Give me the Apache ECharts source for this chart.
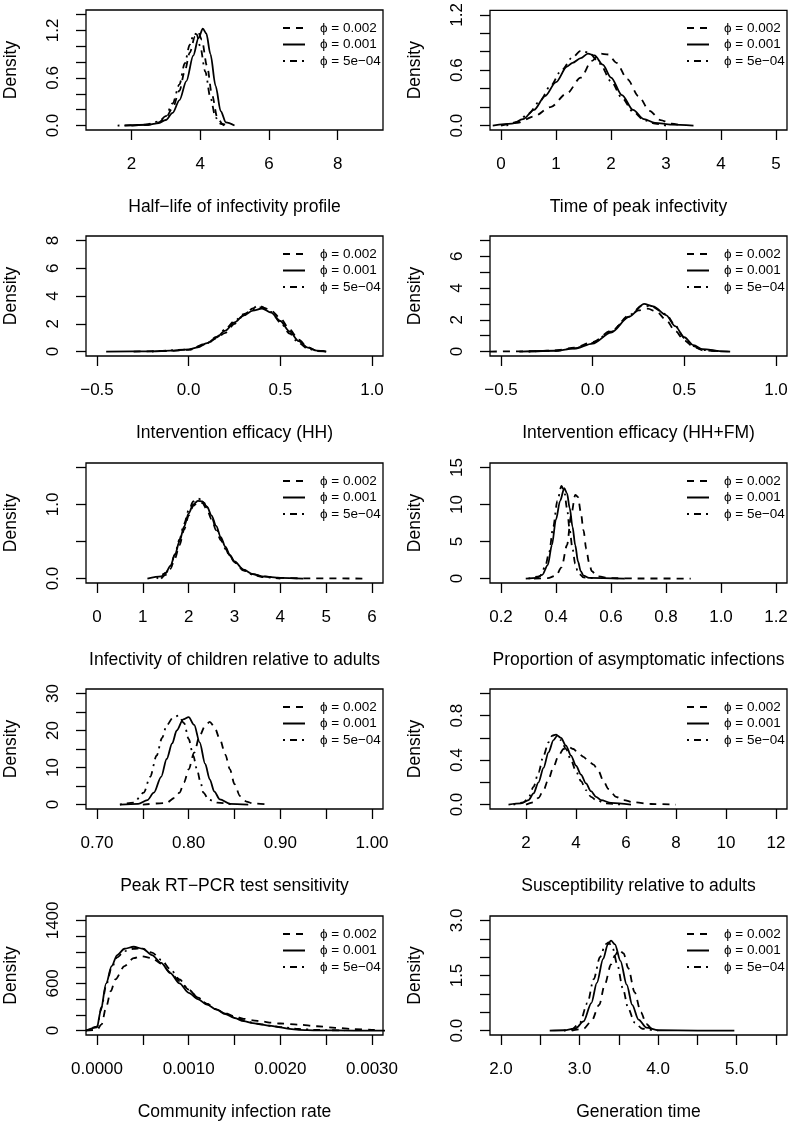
<!DOCTYPE html>
<html><head><meta charset="utf-8">
<script src="https://cdn.jsdelivr.net/npm/echarts@6/dist/echarts.min.js"></script>
<style>html,body{margin:0;padding:0;background:#fff}#c{width:798px;height:1122px}</style>
</head><body><div id="c"></div><script>
// ---------------- DATA ----------------
const seriesNames = ['ϕ = 0.002', 'ϕ = 0.001', 'ϕ = 5e−04'];
const panelTitles = ['Half−life of infectivity profile', 'Time of peak infectivity',
  'Intervention efficacy (HH)', 'Intervention efficacy (HH+FM)',
  'Infectivity of children relative to adults', 'Proportion of asymptomatic infections',
  'Peak RT−PCR test sensitivity', 'Susceptibility relative to adults',
  'Community infection rate', 'Generation time'];
const xLims = [[1,9],[0,5],[-0.5,1],[-0.5,1],[0,6],[0.2,1.2],[0.7,1.0],[1,12],[0,0.003],[2,5.5]];
const yLims = [[0,1.4],[0,1.2],[0,8],[0,7],[0,1.5],[0,15],[0,30],[0,1],[0,1400],[0,3]];
const xTicks = [[2,4,6,8],[0,1,2,3,4,5],[-0.5,0,0.5,1],[-0.5,0,0.5,1],[0,1,2,3,4,5,6],
  [0.2,0.4,0.6,0.8,1.0,1.2],[0.70,0.75,0.80,0.85,0.90,0.95,1.00],[2,4,6,8,10,12],
  [0,0.0005,0.001,0.0015,0.002,0.0025,0.003],[2,2.5,3,3.5,4,4.5,5,5.5]];
const xTickLabels = [[2,4,6,8],[0,1,2,3,4,5],[-0.5,0,0.5,1],[-0.5,0,0.5,1],[0,1,2,3,4,5,6],
  [0.2,0.4,0.6,0.8,1.0,1.2],[0.70,0.80,0.90,1.00],[2,4,6,8,10,12],
  [0,0.001,0.002,0.003],[2,3,4,5]];
const xDecimals = [0,0,1,1,0,1,2,0,4,1];
const yTicks = [[0,0.2,0.4,0.6,0.8,1.0,1.2,1.4],[0,0.2,0.4,0.6,0.8,1.0,1.2],[0,2,4,6,8],
  [0,1,2,3,4,5,6,7],[0,0.5,1,1.5],[0,5,10,15],[0,5,10,15,20,25,30],[0,0.2,0.4,0.6,0.8,1.0],
  [0,200,400,600,800,1000,1200,1400],[0,0.5,1,1.5,2,2.5,3]];
const yTickLabels = [[0,0.6,1.2],[0,0.6,1.2],[0,2,4,6,8],[0,2,4,6],[0,1],[0,5,10,15],
  [0,10,20,30],[0,0.4,0.8],[0,600,1400],[0,1.5,3]];
const yDecimals = [1,1,0,0,1,0,0,1,0,1];

// Panel 1: half-life
const hl_002 = [[2.0,0],[2.5,0.01],[2.8,0.04],[3.0,0.1],[3.2,0.22],[3.4,0.44],[3.55,0.68],[3.7,0.92],[3.85,1.12],[3.95,1.17],[4.05,1.08],[4.2,0.75],[4.35,0.38],[4.5,0.1],[4.65,0.02],[4.8,0]];
const hl_001 = [[1.8,0],[2.5,0.01],[2.8,0.03],[3.0,0.07],[3.2,0.16],[3.4,0.32],[3.6,0.56],[3.8,0.88],[3.95,1.1],[4.08,1.22],[4.18,1.16],[4.3,0.9],[4.45,0.5],[4.6,0.18],[4.75,0.04],[5.0,0]];
const hl_0005 = [[1.6,0],[2.4,0.01],[2.8,0.05],[3.0,0.12],[3.2,0.28],[3.4,0.52],[3.55,0.78],[3.7,1.02],[3.82,1.16],[3.9,1.15],[4.0,1.0],[4.15,0.68],[4.3,0.35],[4.45,0.1],[4.6,0.02],[4.7,0]];
// Panel 2: time of peak infectivity
const pt_002 = [[0,0],[0.3,0.03],[0.6,0.1],[0.9,0.2],[1.2,0.35],[1.45,0.52],[1.65,0.7],[1.8,0.78],[1.95,0.77],[2.1,0.68],[2.3,0.5],[2.5,0.32],[2.7,0.16],[2.9,0.06],[3.1,0.02],[3.3,0]];
const pt_001 = [[-0.15,0],[0.2,0.02],[0.4,0.07],[0.6,0.17],[0.8,0.32],[1.0,0.47],[1.2,0.64],[1.3,0.68],[1.45,0.73],[1.58,0.78],[1.7,0.76],[1.85,0.66],[2.0,0.52],[2.2,0.33],[2.4,0.17],[2.6,0.07],[2.8,0.03],[3.1,0.01],[3.5,0]];
const pt_0005 = [[0.1,0],[0.3,0.04],[0.5,0.13],[0.7,0.26],[0.9,0.43],[1.1,0.6],[1.3,0.74],[1.45,0.81],[1.6,0.79],[1.8,0.67],[2.0,0.48],[2.2,0.3],[2.4,0.15],[2.6,0.06],[2.8,0.02],[3.0,0]];
// Panel 3: intervention efficacy HH
const hh_002 = [[-0.3,0],[-0.1,0.04],[0,0.12],[0.1,0.55],[0.15,0.95],[0.2,1.35],[0.25,2.0],[0.3,2.6],[0.35,3.1],[0.38,3.35],[0.42,3.1],[0.45,2.95],[0.5,2.4],[0.55,1.6],[0.6,0.85],[0.65,0.3],[0.7,0.06],[0.75,0]];
const hh_001 = [[-0.45,0],[-0.2,0.02],[-0.1,0.06],[0,0.15],[0.05,0.3],[0.1,0.6],[0.15,1.0],[0.2,1.5],[0.25,2.1],[0.3,2.6],[0.35,2.95],[0.4,3.1],[0.45,2.8],[0.5,2.2],[0.55,1.45],[0.6,0.75],[0.65,0.28],[0.7,0.06],[0.75,0]];
const hh_0005 = [[-0.2,0],[0,0.14],[0.1,0.6],[0.15,1.05],[0.2,1.6],[0.25,2.2],[0.3,2.7],[0.35,3.0],[0.4,3.2],[0.45,2.85],[0.5,2.1],[0.55,1.3],[0.6,0.62],[0.65,0.2],[0.7,0.04],[0.75,0]];
// Panel 4: intervention efficacy HH+FM
const fm_002 = [[-0.56,0],[-0.3,0.02],[-0.2,0.08],[-0.1,0.25],[0,0.6],[0.1,1.3],[0.2,2.2],[0.25,2.6],[0.3,2.7],[0.35,2.5],[0.4,2.0],[0.45,1.3],[0.5,0.7],[0.55,0.3],[0.6,0.08],[0.7,0]];
const fm_001 = [[-0.4,0],[-0.2,0.05],[-0.1,0.18],[0,0.5],[0.1,1.2],[0.2,2.2],[0.28,3.0],[0.33,2.85],[0.4,2.3],[0.45,1.6],[0.5,0.9],[0.55,0.4],[0.6,0.15],[0.7,0.02],[0.75,0]];
const fm_0005 = [[-0.35,0],[-0.2,0.05],[-0.1,0.2],[0,0.55],[0.1,1.25],[0.2,2.3],[0.27,2.9],[0.32,2.85],[0.4,2.35],[0.45,1.65],[0.5,0.85],[0.55,0.35],[0.6,0.1],[0.7,0]];
// Panel 5: infectivity of children
const ci_002 = [[1.4,0],[1.5,0.05],[1.6,0.13],[1.7,0.27],[1.8,0.45],[1.9,0.66],[2.0,0.85],[2.1,0.98],[2.2,1.03],[2.3,1.02],[2.4,0.93],[2.5,0.8],[2.6,0.65],[2.7,0.52],[2.8,0.4],[2.9,0.3],[3.0,0.22],[3.2,0.11],[3.4,0.06],[3.6,0.03],[4.0,0.01],[4.5,0.003],[5.8,0]];
const ci_001 = [[1.1,0],[1.4,0.03],[1.5,0.08],[1.6,0.17],[1.7,0.32],[1.8,0.5],[1.9,0.7],[2.0,0.88],[2.1,1.0],[2.2,1.05],[2.3,1.04],[2.4,0.97],[2.5,0.85],[2.6,0.71],[2.7,0.56],[2.8,0.43],[2.9,0.32],[3.0,0.23],[3.2,0.12],[3.4,0.06],[3.6,0.03],[4.0,0.01],[4.5,0]];
const ci_0005 = [[1.3,0],[1.5,0.07],[1.6,0.17],[1.7,0.33],[1.8,0.53],[1.9,0.74],[2.0,0.92],[2.1,1.04],[2.2,1.08],[2.3,1.06],[2.4,0.96],[2.5,0.83],[2.6,0.68],[2.7,0.54],[2.8,0.41],[2.9,0.31],[3.0,0.22],[3.2,0.11],[3.4,0.05],[3.6,0.02],[4.0,0]];
// Panel 6: proportion asymptomatic
const as_002 = [[0.32,0],[0.37,0.05],[0.4,0.4],[0.42,1.5],[0.44,4.5],[0.455,8.5],[0.47,11.3],[0.48,11.0],[0.49,9.0],[0.5,6.5],[0.51,4.0],[0.52,2.2],[0.53,1.0],[0.55,0.3],[0.6,0.05],[0.7,0.01],[0.89,0]];
const as_001 = [[0.29,0],[0.33,0.1],[0.35,0.5],[0.37,1.8],[0.385,4.5],[0.4,8.0],[0.415,10.5],[0.43,12.2],[0.44,11.5],[0.45,9.5],[0.46,7.0],[0.47,4.5],[0.48,2.3],[0.49,1.0],[0.5,0.4],[0.52,0.1],[0.65,0]];
const as_0005 = [[0.3,0],[0.34,0.3],[0.36,1.5],[0.375,3.5],[0.39,7.0],[0.405,10.5],[0.42,12.5],[0.43,11.8],[0.44,9.5],[0.45,6.5],[0.46,4.0],[0.47,2.0],[0.48,0.8],[0.5,0.15],[0.55,0]];
// Panel 7: peak RT-PCR sensitivity
const pcr_002 = [[0.75,0],[0.775,0.4],[0.785,1.8],[0.79,3.2],[0.795,6.0],[0.8,9.5],[0.806,14.0],[0.812,18.6],[0.818,21.3],[0.823,22.3],[0.828,21.0],[0.834,17.7],[0.84,13.5],[0.845,9.5],[0.85,5.5],[0.856,2.3],[0.863,0.8],[0.87,0.3],[0.889,0]];
const pcr_001 = [[0.725,0],[0.745,0.2],[0.755,1.2],[0.762,3.2],[0.77,7.5],[0.776,12.3],[0.782,16.5],[0.787,20.0],[0.794,23.0],[0.8,23.6],[0.806,21.5],[0.812,16.8],[0.818,11.0],[0.823,6.8],[0.828,3.5],[0.834,1.4],[0.845,0.2],[0.865,0]];
const pcr_0005 = [[0.725,0],[0.74,0.5],[0.751,3.2],[0.758,7.5],[0.765,13.2],[0.771,18.0],[0.776,21.4],[0.783,23.5],[0.789,24.0],[0.795,22.0],[0.8,17.7],[0.805,13.2],[0.809,9.5],[0.813,6.0],[0.816,3.2],[0.822,1.3],[0.831,0.5],[0.85,0]];
// Panel 8: susceptibility
const su_002 = [[2.0,0],[2.3,0.02],[2.5,0.06],[2.7,0.13],[2.9,0.23],[3.1,0.34],[3.3,0.44],[3.5,0.5],[3.7,0.52],[3.9,0.5],[4.1,0.46],[4.3,0.43],[4.5,0.39],[4.7,0.36],[4.9,0.3],[5.1,0.21],[5.3,0.14],[5.6,0.07],[5.9,0.04],[6.3,0.02],[7.0,0.005],[8.0,0]];
const su_001 = [[1.3,0],[1.8,0.01],[2.1,0.04],[2.3,0.1],[2.5,0.2],[2.7,0.33],[2.9,0.47],[3.1,0.58],[3.25,0.62],[3.4,0.6],[3.6,0.53],[3.8,0.44],[4.0,0.35],[4.2,0.27],[4.4,0.19],[4.6,0.12],[4.8,0.07],[5.0,0.04],[5.4,0.015],[6.2,0]];
const su_0005 = [[1.5,0],[1.9,0.02],[2.1,0.06],[2.3,0.16],[2.5,0.29],[2.7,0.44],[2.9,0.56],[3.05,0.62],[3.2,0.63],[3.4,0.58],[3.6,0.5],[3.8,0.4],[4.0,0.3],[4.2,0.21],[4.4,0.13],[4.6,0.07],[4.8,0.04],[5.2,0.01],[5.8,0]];
// Panel 9: community infection rate
const cr_002 = [[-0.00012,0],[0,10],[0.00005,80],[0.0001,300],[0.00015,500],[0.0002,650],[0.0003,820],[0.0004,920],[0.00048,945],[0.0006,920],[0.0007,850],[0.0008,740],[0.0009,630],[0.001,520],[0.0011,420],[0.0012,340],[0.0013,270],[0.0014,220],[0.0015,180],[0.0016,150],[0.0017,130],[0.0018,115],[0.0019,100],[0.002,90],[0.0022,75],[0.0024,55],[0.0026,35],[0.0028,20],[0.003,10],[0.0031,5]];
const cr_001 = [[-0.00012,0],[0,40],[0.00004,250],[0.0001,600],[0.00016,820],[0.00022,960],[0.0003,1040],[0.0004,1065],[0.0005,1040],[0.0006,960],[0.0007,860],[0.0008,730],[0.0009,600],[0.001,480],[0.0011,400],[0.0012,330],[0.0013,270],[0.0014,210],[0.0015,160],[0.0016,120],[0.0017,95],[0.0018,75],[0.0019,60],[0.002,40],[0.0021,22],[0.0022,10],[0.0024,3],[0.0028,0],[0.0033,0]];
const cr_0005 = [[-0.00012,0],[0,50],[0.00005,300],[0.0001,580],[0.00016,800],[0.00022,930],[0.0003,1010],[0.0004,1040],[0.00048,1045],[0.0006,990],[0.0007,900],[0.0008,780],[0.0009,650],[0.001,520],[0.0011,420],[0.0012,340],[0.0013,270],[0.0014,215],[0.0015,170],[0.0016,130],[0.0017,100],[0.0018,80],[0.0019,62],[0.002,45],[0.0022,20],[0.0024,8],[0.0027,0]];
// Panel 10: generation time
const gt_002 = [[2.9,0],[3.05,0.05],[3.15,0.25],[3.25,0.7],[3.32,1.25],[3.4,1.8],[3.45,2.05],[3.5,2.2],[3.56,2.1],[3.62,1.7],[3.7,1.05],[3.78,0.5],[3.85,0.18],[3.92,0.05],[4.0,0]];
const gt_001 = [[2.62,0],[2.8,0.01],[2.95,0.06],[3.05,0.25],[3.15,0.75],[3.22,1.3],[3.3,1.95],[3.36,2.35],[3.4,2.45],[3.45,2.35],[3.52,1.9],[3.6,1.25],[3.67,0.7],[3.75,0.3],[3.85,0.08],[4.0,0.01],[4.5,0],[4.97,0]];
const gt_0005 = [[2.8,0],[2.9,0.03],[3.0,0.2],[3.1,0.75],[3.18,1.4],[3.26,2.0],[3.33,2.35],[3.37,2.4],[3.42,2.25],[3.48,1.8],[3.55,1.15],[3.62,0.6],[3.7,0.22],[3.8,0.05],[3.95,0]];

const panelData = [
  [hl_002, hl_001, hl_0005], [pt_002, pt_001, pt_0005],
  [hh_002, hh_001, hh_0005], [fm_002, fm_001, fm_0005],
  [ci_002, ci_001, ci_0005], [as_002, as_001, as_0005],
  [pcr_002, pcr_001, pcr_0005], [su_002, su_001, su_0005],
  [cr_002, cr_001, cr_0005], [gt_002, gt_001, gt_0005]
];

// ---------------- LAYOUT / STYLE ----------------
const colLeft = [86, 490];
const rowTop = [10, 236, 463, 689, 916];
const boxW = 297, boxH = 120;
const FONT = '"Liberation Sans", Arial, Helvetica, sans-serif';
const dashTypes = [[7, 6], 'solid', [2, 5, 7, 5]];
const fmt = (v, d) => v.toFixed(d).replace('-', '\u2212');

const grids = [], xAxes = [], yAxes = [], series = [], legends = [];
for (let i = 0; i < 10; i++) {
  const c = i % 2, r = Math.floor(i / 2);
  const L = colLeft[c], T = rowTop[r];
  grids.push({ left: L, top: T, width: boxW, height: boxH, show: true,
    borderColor: '#000', borderWidth: 1.3, backgroundColor: 'transparent' });
  const [x0, x1] = xLims[i], [y0, y1] = yLims[i];
  const dx = (x1 - x0) * 0.04, dy = (y1 - y0) * 0.04;
  xAxes.push({ type: 'value', gridIndex: i, min: x0 - dx, max: x1 + dx,
    axisLine: { show: false, onZero: false }, splitLine: { show: false },
    axisTick: { show: true, length: 10, customValues: xTicks[i], lineStyle: { color: '#000', width: 1.3 } },
    axisLabel: { customValues: xTickLabels[i], margin: 26, color: '#000', fontSize: 17, fontFamily: FONT,
      formatter: (v) => fmt(v, xDecimals[i]) },
    name: panelTitles[i], nameLocation: 'middle', nameGap: 68,
    nameTextStyle: { color: '#000', fontSize: 17.5, fontFamily: FONT } });
  yAxes.push({ type: 'value', gridIndex: i, min: y0 - dy, max: y1 + dy,
    axisLine: { show: false, onZero: false }, splitLine: { show: false },
    axisTick: { show: true, length: 10, customValues: yTicks[i], lineStyle: { color: '#000', width: 1.3 } },
    axisLabel: { customValues: yTickLabels[i], margin: 24, rotate: 90, color: '#000', fontSize: 17, fontFamily: FONT,
      formatter: (v) => fmt(v, yDecimals[i]) },
    name: 'Density', nameLocation: 'middle', nameGap: 66,
    nameTextStyle: { color: '#000', fontSize: 17.5, fontFamily: FONT } });
  for (let k = 0; k < 3; k++) {
    series.push({ type: 'line', name: seriesNames[k], xAxisIndex: i, yAxisIndex: i,
      data: panelData[i][k], smooth: 0.3, smoothMonotone: 'x', symbol: 'none', showSymbol: false,
      clip: i !== 8, silent: true, animation: false,
      itemStyle: { color: '#000' },
      lineStyle: { color: '#000', width: 1.8, type: dashTypes[k] } });
  }
  legends.push({ data: seriesNames, orient: 'vertical', left: L + boxW - 106, top: T + 6,
    itemWidth: 22, itemHeight: 10, itemGap: 2.5, selectedMode: false,
    itemStyle: { opacity: 0 },
    textStyle: { color: '#000', fontSize: 13.5, fontFamily: FONT, padding: [0, 0, 0, 10] } });
}

const chart = echarts.init(document.getElementById('c'), null, { renderer: 'canvas' });
chart.setOption({ animation: false, backgroundColor: '#fff',
  grid: grids, xAxis: xAxes, yAxis: yAxes, series: series, legend: legends });
</script></body></html>
